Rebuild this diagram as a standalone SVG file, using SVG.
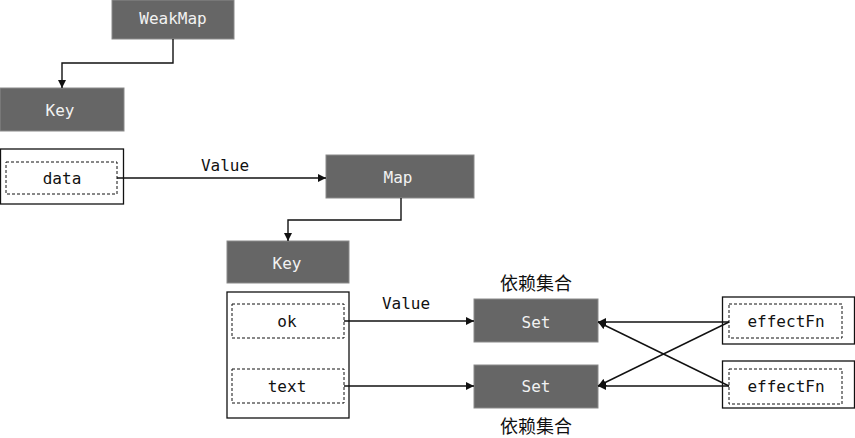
<svg xmlns="http://www.w3.org/2000/svg" width="855" height="438" viewBox="0 0 855 438">
<style>
.box{fill:#666666;stroke:#8a8a8a;stroke-width:1}
.wt{fill:#f2f2f2;font-family:"DejaVu Sans Mono","Liberation Mono",monospace;font-size:16px;text-anchor:middle;dominant-baseline:central}
.bt{fill:#111;font-family:"DejaVu Sans Mono","Liberation Mono",monospace;font-size:16px;text-anchor:middle;dominant-baseline:central}
.cn{fill:#111;font-family:"Noto Sans CJK SC",sans-serif;font-size:18px;text-anchor:middle;dominant-baseline:central}
.outer{fill:#fff;stroke:#111;stroke-width:1.3}
.dash{fill:#fff;stroke:#111;stroke-width:1;stroke-dasharray:3 2}
.ln{fill:none;stroke:#111;stroke-width:1.4}
</style>
<defs>
<marker id="ah" viewBox="0 0 10 10" refX="10" refY="5" markerWidth="8" markerHeight="8" markerUnits="userSpaceOnUse" orient="auto">
<path d="M0,0 L10,5 L0,10 z" fill="#111"/>
</marker>
</defs>
<rect width="855" height="438" fill="#fff"/>
<g id="weakmap"><rect class="box" x="112" y="0" width="122" height="39"/><text class="wt" x="173" y="18">WeakMap</text></g>
<g id="key1"><rect class="box" x="0" y="88" width="124" height="43"/><text class="wt" x="60" y="110">Key</text></g>
<g id="data"><rect class="outer" x="0.5" y="149" width="123" height="55"/><rect class="dash" x="6" y="162" width="111" height="32"/><text class="bt" x="62" y="178">data</text></g>
<g id="map"><rect class="box" x="326" y="155" width="148" height="43"/><text class="wt" x="398" y="177">Map</text></g>
<g id="key2"><rect class="box" x="227" y="241" width="122" height="42"/><text class="wt" x="287" y="263">Key</text></g>
<g id="keys"><rect class="outer" x="227" y="292" width="122" height="126"/>
<rect class="dash" x="232" y="304" width="112" height="34"/><text class="bt" x="287" y="321">ok</text>
<rect class="dash" x="232" y="369" width="112" height="34"/><text class="bt" x="287" y="386">text</text></g>
<g id="set1"><rect class="box" x="474" y="299" width="124" height="43"/><text class="wt" x="536" y="322">Set</text><text class="cn" x="536" y="282">依赖集合</text></g>
<g id="set2"><rect class="box" x="474" y="365" width="124" height="43"/><text class="wt" x="536" y="386">Set</text><text class="cn" x="536" y="425">依赖集合</text></g>
<g id="effect1"><rect class="outer" x="722.5" y="297" width="132" height="47"/><rect class="dash" x="729" y="304" width="113" height="34"/><text class="bt" x="786" y="321">effectFn</text></g>
<g id="effect2"><rect class="outer" x="722.5" y="361" width="132" height="47"/><rect class="dash" x="729" y="369" width="113" height="35"/><text class="bt" x="786" y="386">effectFn</text></g>
<g id="connectors">
<path class="ln" d="M173,39 V63 H62 V88" marker-end="url(#ah)"/>
<path class="ln" d="M117,178 H326" marker-end="url(#ah)"/>
<text class="bt" x="225" y="165">Value</text>
<path class="ln" d="M401,198 V220 H288 V241" marker-end="url(#ah)"/>
<path class="ln" d="M344,321 H474" marker-end="url(#ah)"/>
<text class="bt" x="406" y="303">Value</text>
<path class="ln" d="M344,386 H474" marker-end="url(#ah)"/>
<path class="ln" d="M729,322 H598" marker-end="url(#ah)"/>
<path class="ln" d="M729,322 L598,386" marker-end="url(#ah)"/>
<path class="ln" d="M729,386 H598" marker-end="url(#ah)"/>
<path class="ln" d="M729,386 L598,322" marker-end="url(#ah)"/>
</g>
</svg>
